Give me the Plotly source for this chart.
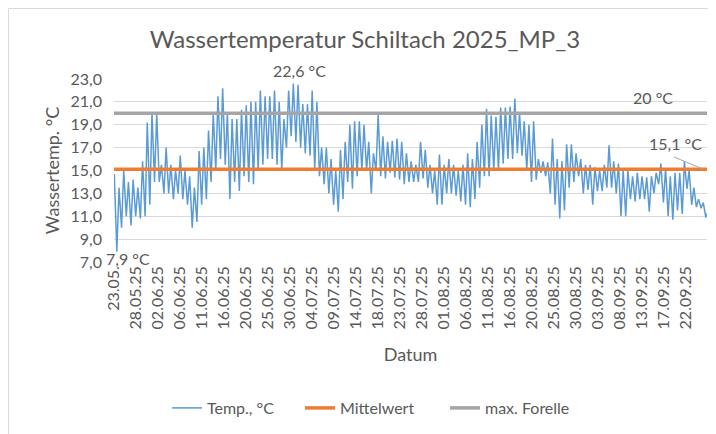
import plotly.graph_objects as go
import pandas as pd

# ---------------- data ----------------
days = [d.strftime("%Y-%m-%d") for d in pd.date_range("2025-05-23", "2025-09-26", freq="D")]

# daily minimum (early morning) and maximum (afternoon) water temperature, °C
t_min = [None, 7.9, 10.0, 11.0, 10.2, 11.0, 10.8, 11.0, 12.0,            # 23.05-31.05
         14.0, 14.0, 13.0, 13.0, 12.5, 13.0, 12.5, 12.0, 10.0, 10.5,     # 01.06-10.06
         12.0, 12.5, 14.0, 15.0, 16.0, 15.5, 12.5, 14.0, 13.2, 14.5,     # 11.06-20.06
         14.0, 13.8, 15.0, 15.5, 16.0, 16.0, 15.5, 15.0, 17.0, 18.0,     # 21.06-30.06
         17.5, 17.0, 16.5, 16.3, 15.0, 14.5, 13.8, 13.0, 12.0, 11.4,     # 01.07-10.07
         12.5, 14.0, 13.4, 14.5, 15.0, 15.0, 13.0, 15.0, 14.5, 14.3,     # 11.07-20.07
         14.8, 14.4, 14.2, 13.8, 14.0, 14.0, 14.0, 14.3, 13.5, 13.0, 12.0,  # 21.07-31.07
         12.0, 13.0, 13.0, 12.8, 12.3, 12.0, 11.8, 12.5, 13.5, 14.5,     # 01.08-10.08
         14.5, 15.0, 15.0, 15.6, 16.0, 16.0, 16.5, 16.3, 15.0, 14.0,     # 11.08-20.08
         14.2, 14.8, 14.5, 13.0, 12.0, 10.8, 11.5, 13.5, 14.0, 14.5, 13.0,  # 21.08-31.08
         13.3, 12.0, 13.2, 13.2, 13.5, 13.5, 13.0, 11.0, 11.0, 12.5,     # 01.09-10.09
         12.3, 12.5, 12.5, 11.4, 13.0, 13.8, 12.2, 11.0, 10.7, 11.5,     # 11.09-20.09
         11.2, 13.4, 12.0, 11.8, 11.7, 10.9]                             # 21.09-26.09

t_max = [14.7, 13.5, 15.0, 14.0, 14.2, 13.5, 15.8, 19.2, 20.0,           # 23.05-31.05
         20.0, 15.5, 17.0, 15.5, 15.0, 16.3, 15.0, 14.5, 13.5, 16.7,     # 01.06-10.06
         17.0, 18.5, 20.0, 21.5, 22.2, 20.0, 19.5, 19.5, 20.3, 20.7,     # 11.06-20.06
         21.0, 21.0, 22.0, 21.5, 21.5, 22.0, 21.0, 19.5, 22.0, 22.6,     # 21.06-30.06
         22.5, 20.8, 20.8, 22.0, 21.0, 17.0, 17.0, 16.0, 15.0, 16.8,     # 01.07-10.07
         17.5, 19.0, 19.3, 19.3, 19.0, 17.5, 16.5, 19.9, 18.0, 17.5,     # 11.07-20.07
         17.6, 17.8, 17.5, 16.5, 15.8, 15.5, 17.5, 16.8, 15.5, 15.0, 16.4,  # 21.07-31.07
         15.5, 16.0, 15.5, 15.0, 15.5, 16.5, 16.0, 17.5, 19.0, 20.4,     # 01.08-10.08
         19.8, 19.7, 20.5, 20.5, 20.6, 21.3, 20.0, 19.3, 19.0, 19.3,     # 11.08-20.08
         16.0, 15.8, 15.7, 17.8, 16.0, 15.8, 17.3, 17.3, 16.5, 16.0, 15.5,  # 21.08-31.08
         15.5, 15.3, 15.0, 15.5, 17.2, 15.8, 15.6, 15.0, 15.0, 14.5,     # 01.09-10.09
         14.8, 14.5, 14.4, 14.5, 14.8, 15.6, 15.2, 14.5, 14.8, 14.8,     # 11.09-20.09
         15.8, 15.0, 13.5, 12.5, 12.2, 11.4]                             # 21.09-26.09

mean_value = 15.1        # Mittelwert
trout_max = 20.0         # max. Forelle

tick_labels = ["23.05.", "28.05.25", "02.06.25", "06.06.25", "11.06.25", "16.06.25",
               "20.06.25", "25.06.25", "30.06.25", "04.07.25", "09.07.25", "14.07.25",
               "18.07.25", "23.07.25", "28.07.25", "01.08.25", "06.08.25", "11.08.25",
               "16.08.25", "20.08.25", "25.08.25", "30.08.25", "03.09.25", "08.09.25",
               "13.09.25", "17.09.25", "22.09.25"]
y_ticks = [7, 9, 11, 13, 15, 17, 19, 21, 23]

# ---------------- build series ----------------
xs, ys = [], []
for d, lo, hi in zip(days, t_min, t_max):
    if lo is not None:
        xs.append(pd.Timestamp(d) + pd.Timedelta(hours=5))
        ys.append(lo)
    xs.append(pd.Timestamp(d) + pd.Timedelta(hours=16))
    ys.append(hi)

tick_vals = list(pd.date_range("2025-05-23 16:00", periods=len(tick_labels), freq="112h"))
x_start = pd.Timestamp("2025-05-23 14:30")
x_end = pd.Timestamp("2025-09-26 11:00")
line_x = [x_start, x_end]

TXT = "#595959"
FONT = "Lato"
BLUE, ORANGE, GREY = "#5B9BD5", "#ED7D31", "#A5A5A5"

fig = go.Figure()
fig.add_trace(go.Scatter(x=xs, y=ys, mode="lines", name="Temp., °C", legendwidth=88,
                         line=dict(color=BLUE, width=1.5)))
fig.add_trace(go.Scatter(x=line_x, y=[mean_value] * len(line_x), mode="lines",
                         name="Mittelwert", legendwidth=100,
                         line=dict(color=ORANGE, width=3.5)))
fig.add_trace(go.Scatter(x=line_x, y=[trout_max] * len(line_x), mode="lines",
                         name="max. Forelle", legendwidth=100,
                         line=dict(color=GREY, width=3.5)))

i_max = ys.index(max(ys))
i_min = ys.index(min(ys))

def fmt(v):
    return f"{v:.1f}".replace(".", ",") + " °C"

# page body adds an 8 px offset: figure = screen - 8
W, H = 708, 426
L, R, T, B = 106, 9, 71, 172
pw, ph = W - L - R, H - T - B
def px(x): return (x - L) / pw
def py(y): return (H - B - y) / ph

afont = dict(size=16, color=TXT, family=FONT)
annos = [
    dict(x=xs[i_max], y=ys[i_max], text=fmt(ys[i_max]), showarrow=False,
         xanchor="center", yanchor="middle", xshift=6, yshift=13, font=afont),
    dict(x=xs[i_min], y=ys[i_min], text=fmt(ys[i_min]), showarrow=False,
         xanchor="center", yanchor="middle", xshift=11, yshift=-7, font=afont),
    dict(xref="paper", x=px(645), y=trout_max, text=f"{trout_max:.0f} °C", showarrow=False,
         xanchor="center", yanchor="middle", yshift=16, font=afont),
    dict(xref="paper", x=px(667), y=mean_value, text=fmt(mean_value), showarrow=False,
         xanchor="center", yanchor="middle", yshift=26, font=afont),
]

shapes = [
    dict(type="rect", xref="paper", yref="paper", x0=px(0.5), y0=py(0.5), x1=px(740), y1=py(460),
         line=dict(color="#D9D9D9", width=1), fillcolor="rgba(0,0,0,0)", layer="below"),
    dict(type="line", xref="paper", yref="paper", x0=px(666), y0=py(149), x1=px(695), y1=py(161),
         line=dict(color="#A6A6A6", width=1)),
]

fig.update_layout(
    width=W, height=H,
    margin=dict(l=L, r=R, t=T, b=B),
    paper_bgcolor="white", plot_bgcolor="white",
    separators=", ",
    font=dict(family=FONT, color=TXT, size=16),
    title=dict(text="Wassertemperatur Schiltach 2025_MP_3", x=357 / W, xanchor="center",
               y=1 - 32 / H, yanchor="middle", font=dict(size=24, color=TXT, family=FONT)),
    showlegend=True,
    legend=dict(orientation="h", x=px(159), xanchor="left", y=py(400), yanchor="middle",
                font=dict(size=16, color=TXT, family=FONT), bgcolor="rgba(0,0,0,0)"),
    annotations=annos,
    shapes=shapes,
)
fig.update_xaxes(type="date", range=[x_start, x_end], tickmode="array",
                 tickvals=tick_vals, ticktext=tick_labels, tickangle=-90,
                 showgrid=False, zeroline=False, showline=False, ticks="",
                 tickfont=dict(size=16, color=TXT, family=FONT),
                 title=dict(text="Datum", font=dict(size=18, color=TXT, family=FONT), standoff=19))
fig.update_yaxes(range=[7, 23], tickmode="array", tickvals=y_ticks, tickformat=".1f",
                 showgrid=True, gridcolor="#D9D9D9", gridwidth=1, zeroline=False,
                 showline=False, ticks="", ticklabelstandoff=11,
                 tickfont=dict(size=16, color=TXT, family=FONT),
                 title=dict(text="Wassertemp. °C", font=dict(size=18, color=TXT, family=FONT),
                            standoff=6))

fig.write_html("out.html")
